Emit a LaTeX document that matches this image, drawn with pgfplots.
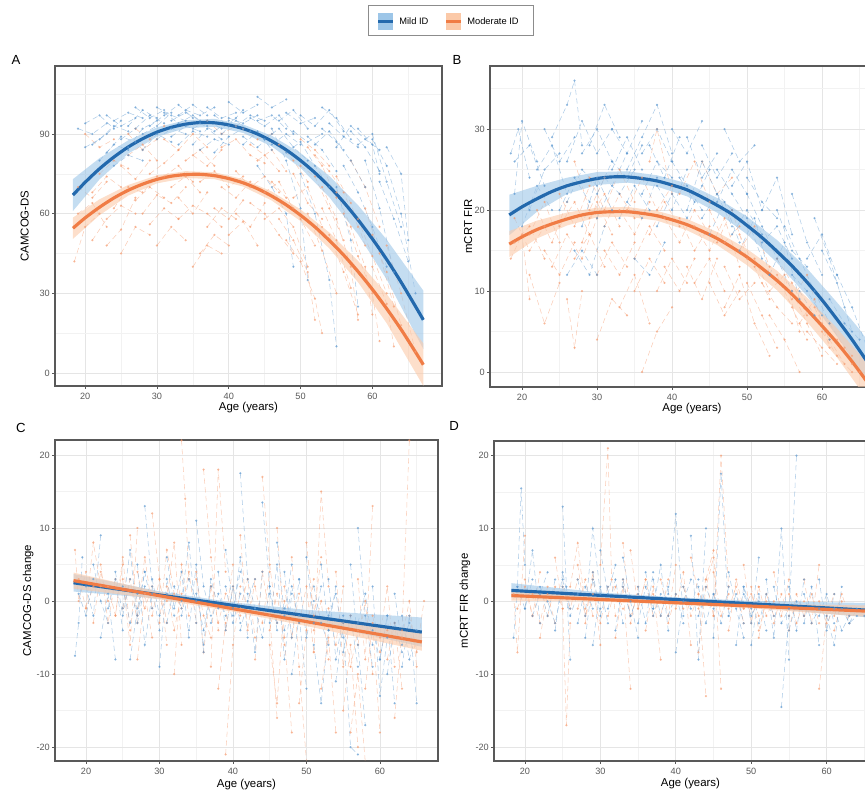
\documentclass[border=0pt]{standalone}
\usepackage{pgfplots}
\pgfplotsset{compat=1.18}
\usepackage{fontspec}
\setmainfont{Liberation Sans}

\definecolor{bl}{HTML}{2369AD}
\definecolor{orl}{HTML}{F07C45}
\definecolor{blp}{HTML}{5B97CF}
\definecolor{orp}{HTML}{F59A6E}
\definecolor{blr}{HTML}{9DC6E8}
\definecolor{orr}{HTML}{FBC9A8}

\pgfplotsset{
  panel/.style={
    scale only axis, anchor=south west,
    axis line style={black!65, line width=0.6pt},
    grid=both,
    major grid style={black!10, line width=0.4pt},
    minor grid style={black!5, line width=0.3pt},
    tick align=outside, tick pos=left,
    major tick length=0.06cm, minor tick length=0pt,
    tick style={black!65, line width=0.4pt},
    ticklabel style={font=\fontsize{5.2}{6}\selectfont, text=black!65},
    xticklabel style={yshift=0.04cm},
    yticklabel style={xshift=0.08cm},
    /pgf/number format/assume math mode=true,
    label style={font=\fontsize{6.5}{7.5}\selectfont},
    xlabel={Age (years)},
    xtick={20,30,40,50,60}, minor xtick={15,25,35,45,55,65},
  },
  ptsB/.style={blp, densely dashed, line width=0.3pt, opacity=0.5, mark=*, mark size=0.5pt, mark options={solid}, unbounded coords=jump},
  ptsO/.style={orp, densely dashed, line width=0.3pt, opacity=0.5, mark=*, mark size=0.5pt, mark options={solid}, unbounded coords=jump},
  ribB/.style={draw=none, fill=blr, fill opacity=0.6},
  ribO/.style={draw=none, fill=orr, fill opacity=0.6},
  fitB/.style={bl, line width=1.8pt, smooth},
  fitO/.style={orl, line width=1.8pt, smooth},
}

\begin{document}
\begin{tikzpicture}
\useasboundingbox (0,0) rectangle (17.3,15.86);
\clip (0,0) rectangle (17.3,15.86);

% legend
\draw[black!45, line width=0.5pt] (7.36,15.16) rectangle (10.66,15.76);
\fill[blr] (7.56,15.26) rectangle (7.86,15.60);
\draw[bl, line width=1.6pt] (7.56,15.43) -- (7.86,15.43);
\node[anchor=west, font=\fontsize{5.3}{6}\selectfont, inner sep=0] at (7.98,15.43) {Mild ID};
\fill[orr] (8.92,15.26) rectangle (9.22,15.60);
\draw[orl, line width=1.6pt] (8.92,15.43) -- (9.22,15.43);
\node[anchor=west, font=\fontsize{5.3}{6}\selectfont, inner sep=0] at (9.34,15.43) {Moderate ID};

% panel letters
\node[font=\fontsize{7.5}{8}\selectfont] at (0.32,14.66) {A};
\node[font=\fontsize{7.5}{8}\selectfont] at (9.14,14.66) {B};
\node[font=\fontsize{7.5}{8}\selectfont] at (0.42,7.30) {C};
\node[font=\fontsize{7.5}{8}\selectfont] at (9.08,7.34) {D};

% ---------------- A
\begin{axis}[panel, at={(1.10cm,8.14cm)}, width=7.74cm, height=6.40cm,
  xmin=15.8, xmax=69.7, ymin=-4.9, ymax=115.6,
  ytick={0,30,60,90}, minor ytick={15,45,75,105},
  ylabel={CAMCOG-DS},
  ylabel style={at={(axis description cs:-0.078,0.5)}, anchor=center},
  xlabel style={at={(axis description cs:0.5,-0.066)}, anchor=center}]
\addplot[ptsO] coordinates {
(18.5,42)(20,55)(22,60)(0,nan)(19,70)(21,66)(23,72)(0,nan)(21,50)(23,58)(25,63)(27,60)(0,nan)
(22,75)(24,80)(26,77)(0,nan)(24,62)(26,70)(28,68)(30,74)(0,nan)(25,45)(27,55)(29,52)(0,nan)
(26,82)(28,86)(30,80)(0,nan)(28,60)(30,67)(32,64)(34,70)(0,nan)(29,75)(31,79)(33,84)(0,nan)
(30,48)(32,55)(34,50)(0,nan)(31,88)(33,84)(35,90)(37,85)(0,nan)(32,70)(34,74)(36,68)(0,nan)
(33,58)(35,63)(37,60)(39,55)(0,nan)(34,80)(36,84)(38,78)(0,nan)(35,40)(37,48)(39,45)(0,nan)
(36,72)(38,76)(40,70)(42,74)(0,nan)(38,62)(40,58)(42,65)(0,nan)(39,85)(41,88)(43,82)(45,79)(0,nan)
(40,52)(42,57)(44,48)(0,nan)(41,76)(43,70)(45,74)(47,68)(0,nan)(43,64)(45,60)(47,52)(49,45)(0,nan)
(44,80)(46,84)(48,76)(0,nan)(45,58)(47,62)(49,55)(51,40)(0,nan)(46,72)(48,66)(50,58)(52,48)(0,nan)
(47,86)(49,80)(51,72)(0,nan)(48,50)(50,42)(52,28)(53,15)(0,nan)(49,66)(51,70)(53,55)(0,nan)
(50,78)(52,74)(54,62)(56,50)(0,nan)(51,60)(53,46)(55,30)(0,nan)(52,82)(54,76)(56,68)(58,55)(0,nan)
(53,70)(55,58)(57,40)(58,20)(0,nan)(54,52)(56,38)(58,22)(0,nan)(55,74)(57,64)(59,48)(0,nan)
(56,60)(58,44)(60,30)(61,12)(0,nan)(57,80)(59,70)(61,55)(0,nan)(59,62)(61,45)(63,25)(0,nan)
(60,52)(62,38)(64,18)(0,nan)(62,48)(64,30)(66,8)(0,nan)(20,90)(22,85)(24,88)(0,nan)
(27,92)(29,88)(31,93)(0,nan)(42,92)(44,88)(46,90)(0,nan)(50,88)(52,84)(54,78)(0,nan)(37,95)(39,90)(41,93)
};
\addplot[ptsO] coordinates {
(19,60)(21,64)(23,55)(0,nan)(21,68)(23,74)(25,70)(0,nan)(23,48)(25,54)(27,66)(0,nan)(25,78)(27,73)(29,80)(0,nan)
(27,65)(29,70)(31,66)(0,nan)(29,56)(31,62)(33,58)(0,nan)(31,74)(33,78)(35,72)(0,nan)(33,66)(35,60)(37,68)(0,nan)
(35,82)(37,78)(39,84)(0,nan)(37,55)(39,62)(41,58)(0,nan)(39,70)(41,66)(43,72)(0,nan)(41,60)(43,55)(45,64)(0,nan)
(43,86)(45,82)(47,76)(0,nan)(45,68)(47,72)(49,62)(0,nan)(47,58)(49,50)(51,38)(52,20)(0,nan)(49,75)(51,64)(53,58)(0,nan)
(51,85)(53,78)(55,66)(0,nan)(53,62)(55,50)(57,32)(0,nan)(55,68)(57,55)(59,40)(60,22)(0,nan)(58,58)(60,44)(62,30)(0,nan)
(60,40)(62,26)(63,10)(0,nan)(26,90)(28,84)(30,88)(0,nan)(36,45)(38,52)(40,48)
};
\addplot[ptsB] coordinates {
(19,92)(21,90)(23,94)(0,nan)(20,85)(22,88)(24,93)(26,91)(0,nan)(22,80)(24,86)(26,84)(0,nan)
(24,95)(26,98)(28,96)(0,nan)(25,88)(27,92)(29,97)(31,94)(0,nan)(27,100)(29,96)(31,99)(0,nan)
(28,84)(30,90)(32,87)(0,nan)(29,93)(31,97)(33,101)(35,96)(0,nan)(30,88)(32,92)(34,90)(0,nan)
(31,98)(33,94)(35,97)(37,93)(0,nan)(33,86)(35,91)(37,89)(0,nan)(34,99)(36,97)(38,100)(0,nan)
(35,92)(37,95)(39,92)(41,96)(0,nan)(36,84)(38,88)(40,86)(0,nan)(38,97)(40,93)(42,99)(0,nan)
(39,90)(41,95)(43,91)(45,88)(0,nan)(40,102)(42,98)(44,101)(0,nan)(42,86)(44,91)(46,84)(0,nan)
(43,96)(45,93)(47,97)(49,90)(0,nan)(44,104)(46,100)(48,103)(0,nan)(45,88)(47,92)(49,85)(51,80)(0,nan)
(47,95)(49,99)(51,92)(0,nan)(48,83)(50,87)(52,78)(54,70)(0,nan)(50,97)(52,93)(54,99)(56,91)(0,nan)
(51,89)(53,84)(55,76)(0,nan)(53,92)(55,87)(57,80)(59,70)(0,nan)(55,85)(57,93)(59,88)(61,84)(0,nan)
(56,78)(58,68)(60,55)(62,40)(0,nan)(57,91)(59,85)(61,76)(0,nan)(58,86)(60,90)(62,72)(64,55)(0,nan)
(59,80)(61,62)(63,38)(0,nan)(60,88)(62,78)(64,60)(66,30)(0,nan)(61,72)(63,58)(65,42)(0,nan)
(50,75)(52,60)(54,35)(55,10)(0,nan)(46,92)(48,80)(50,62)(51,35)(0,nan)(41,93)(43,97)(45,95)(0,nan)
(26,85)(28,92)(30,95)(0,nan)(23,97)(25,93)(27,96)(0,nan)(37,100)(39,96)(41,98)(0,nan)
(32,95)(34,98)(36,95)(0,nan)(53,100)(55,96)(57,88)(0,nan)(62,85)(64,75)(65,50)
};
\addplot[ptsB] coordinates {
(20,94)(22,97)(24,92)(0,nan)(21,86)(23,90)(25,95)(0,nan)(23,83)(25,89)(27,87)(0,nan)(26,93)(28,99)(30,96)(0,nan)
(28,90)(30,93)(32,98)(0,nan)(30,100)(32,97)(34,95)(0,nan)(32,89)(34,93)(36,91)(0,nan)(33,97)(35,101)(37,97)(0,nan)
(35,86)(37,92)(39,88)(0,nan)(36,94)(38,91)(40,95)(0,nan)(38,83)(40,89)(42,92)(0,nan)(40,96)(42,94)(44,97)(0,nan)
(42,89)(44,85)(46,90)(0,nan)(44,95)(46,97)(48,92)(0,nan)(46,86)(48,90)(50,86)(0,nan)(48,98)(50,94)(52,96)(0,nan)
(49,91)(51,87)(53,90)(0,nan)(52,86)(54,91)(56,84)(0,nan)(54,94)(56,89)(58,85)(0,nan)(58,92)(60,86)(61,75)(0,nan)
(44,78)(46,70)(48,60)(49,40)(0,nan)(55,70)(57,50)(58,25)(0,nan)(24,78)(26,82)(28,80)
};
\addplot[ribB] coordinates {(18.3,73.0)(22,80.9)(26,87.6)(30,92.5)(34,95.2)(38,95.7)(42,93.6)(46,89.3)(50,82.8)(54,74.2)(58,63.2)(62,50.2)(67.1,31.0)
(67.1,9.0)(62,35.2)(58,52.2)(54,66.2)(50,77.2)(46,85.3)(42,90.4)(38,92.7)(34,92.2)(30,88.9)(26,82.6)(22,72.9)(18.3,61.0)} -- cycle;
\addplot[ribO] coordinates {(18.3,58.5)(22,65.4)(26,70.8)(30,74.4)(34,76.0)(38,75.6)(42,73.0)(46,68.3)(50,61.6)(54,52.9)(58,42.2)(62,29.7)(67.1,11.1)
(67.1,-4.9)(62,18.7)(58,34.2)(54,46.9)(50,57.2)(46,64.9)(42,70.2)(38,73.0)(34,73.4)(30,71.4)(26,66.8)(22,59.4)(18.3,50.5)} -- cycle;
\addplot[fitB] coordinates {(18.3,67.0)(20,71.8)(22,76.9)(24,81.3)(26,85.1)(28,88.2)(30,90.7)(32,92.5)(34,93.7)(36,94.3)(38,94.2)(40,93.4)(42,92.0)(44,90.0)(46,87.3)(48,84.0)(50,80.0)(52,75.4)(54,70.2)(56,64.3)(58,57.7)(60,50.5)(62,42.7)(64,34.2)(66,25.1)(67.1,20.0)};
\addplot[fitO] coordinates {(18.3,54.5)(20,58.4)(22,62.4)(24,65.9)(26,68.8)(28,71.1)(30,72.9)(32,74.1)(34,74.7)(36,74.8)(38,74.3)(40,73.2)(42,71.6)(44,69.4)(46,66.6)(48,63.3)(50,59.4)(52,55.0)(54,49.9)(56,44.4)(58,38.2)(60,31.5)(62,24.2)(64,16.4)(66,7.9)(67.1,3.1)};
\end{axis}

% ---------------- B
\begin{axis}[panel, at={(9.80cm,8.12cm)}, width=8.08cm, height=6.42cm,
  xmin=15.73, xmax=69.6, ymin=-1.85, ymax=37.8,
  ytick={0,10,20,30}, minor ytick={5,15,25,35},
  ylabel={mCRT FIR},
  ylabel style={at={(axis description cs:-0.054,0.5)}, anchor=center},
  xlabel style={at={(axis description cs:0.5,-0.066)}, anchor=center}]
\addplot[ptsO] coordinates {
(18.5,14)(20,17)(21,9)(0,nan)(19,19)(21,15)(23,18)(0,nan)(21,12)(23,6)(25,11)(0,nan)(22,20)(24,16)(26,21)(0,nan)
(24,13)(26,17)(28,14)(30,19)(0,nan)(25,22)(27,18)(29,23)(0,nan)(26,9)(27,3)(28,10)(0,nan)(28,16)(30,21)(32,17)(0,nan)
(29,24)(31,20)(33,25)(35,21)(0,nan)(30,12)(32,16)(34,13)(0,nan)(31,18)(33,22)(35,19)(0,nan)(33,8)(35,12)(37,6)(0,nan)
(34,20)(36,24)(38,20)(40,23)(0,nan)(35,14)(37,18)(39,15)(0,nan)(37,26)(38,30)(40,22)(0,nan)(38,10)(40,14)(42,11)(0,nan)
(39,19)(41,16)(43,20)(45,17)(0,nan)(41,22)(43,26)(45,21)(0,nan)(42,13)(44,9)(46,14)(0,nan)(43,18)(45,15)(47,19)(49,13)(0,nan)
(45,11)(47,7)(49,10)(0,nan)(46,16)(48,20)(50,14)(0,nan)(47,8)(49,12)(51,6)(53,2)(0,nan)(49,17)(51,13)(53,9)(0,nan)
(50,11)(52,7)(54,3)(0,nan)(51,14)(53,10)(55,12)(57,5)(0,nan)(53,7)(55,4)(57,0)(0,nan)(54,12)(56,8)(58,4)(0,nan)
(56,10)(58,6)(60,2)(0,nan)(57,6)(59,9)(61,3)(0,nan)(59,8)(61,4)(63,1)(0,nan)(60,5)(62,2)(64,0)(0,nan)
(62,4)(64,1)(65,0)(0,nan)(36,0)(38,5)(40,8)(0,nan)(44,26)(46,22)(48,24)(0,nan)(27,26)(29,20)(31,24)
};
\addplot[ptsO] coordinates {
(19,16)(21,18)(23,14)(0,nan)(21,17)(23,21)(25,16)(0,nan)(23,15)(25,12)(27,16)(0,nan)(25,18)(27,21)(29,17)(0,nan)
(27,14)(29,17)(31,13)(0,nan)(29,19)(31,22)(33,18)(0,nan)(31,15)(33,12)(35,16)(0,nan)(33,20)(35,17)(37,21)(0,nan)
(35,10)(37,14)(39,11)(0,nan)(37,17)(39,21)(41,18)(0,nan)(39,13)(41,10)(43,14)(0,nan)(41,19)(43,15)(45,18)(0,nan)
(43,11)(45,14)(47,10)(0,nan)(45,20)(47,16)(49,18)(0,nan)(47,13)(49,9)(51,11)(0,nan)(49,15)(51,18)(53,13)(0,nan)
(52,11)(54,8)(56,6)(0,nan)(54,14)(56,11)(58,7)(0,nan)(56,9)(58,12)(60,6)(0,nan)(58,5)(60,3)(62,1)(0,nan)
(61,6)(63,3)(64,2)(0,nan)(30,4)(32,9)(34,7)
};
\addplot[ptsB] coordinates {
(18.5,27)(19.5,30)(21,24)(0,nan)(19,22)(20,31)(22,26)(0,nan)(20,18)(22,23)(24,20)(0,nan)(22,25)(24,28)(26,22)(0,nan)
(24,29)(26,33)(27,36)(28,28)(0,nan)(25,20)(27,24)(29,21)(0,nan)(26,26)(28,31)(30,27)(32,30)(0,nan)(28,18)(30,24)(32,20)(0,nan)
(29,28)(31,33)(33,29)(0,nan)(30,22)(32,26)(34,24)(36,28)(0,nan)(32,30)(34,27)(36,31)(0,nan)(33,19)(35,23)(37,20)(0,nan)
(34,25)(36,29)(38,33)(40,27)(0,nan)(36,22)(38,26)(40,24)(0,nan)(37,28)(39,24)(41,29)(0,nan)(38,18)(40,22)(42,19)(44,23)(0,nan)
(40,30)(42,27)(44,31)(0,nan)(41,24)(43,21)(45,25)(0,nan)(42,20)(44,26)(46,22)(48,18)(0,nan)(44,28)(46,24)(48,27)(0,nan)
(45,17)(47,21)(49,16)(0,nan)(46,25)(48,22)(50,19)(52,14)(0,nan)(48,23)(50,26)(52,20)(0,nan)(49,15)(51,19)(53,12)(0,nan)
(50,22)(52,18)(54,14)(56,10)(0,nan)(52,20)(54,24)(56,17)(0,nan)(53,12)(55,16)(57,9)(0,nan)(55,18)(57,14)(59,10)(61,6)(0,nan)
(56,22)(58,16)(60,12)(0,nan)(57,10)(59,7)(61,4)(0,nan)(59,19)(61,14)(63,8)(0,nan)(60,15)(62,11)(64,5)(0,nan)
(62,12)(64,8)(66,3)(0,nan)(27,15)(29,12)(31,18)(0,nan)(35,14)(37,12)(39,16)(0,nan)(47,30)(49,26)(51,28)(0,nan)(31,24)(33,22)(35,25)
};
\addplot[ptsB] coordinates {
(19,26)(21,28)(23,23)(0,nan)(21,20)(23,25)(25,27)(0,nan)(23,30)(25,26)(27,29)(0,nan)(26,21)(28,25)(30,23)(0,nan)
(28,27)(30,30)(32,26)(0,nan)(30,19)(32,23)(34,27)(0,nan)(32,25)(34,29)(36,25)(0,nan)(34,21)(36,19)(38,24)(0,nan)
(36,27)(38,30)(40,26)(0,nan)(38,23)(40,20)(42,25)(0,nan)(40,26)(42,23)(44,20)(0,nan)(42,29)(44,24)(46,27)(0,nan)
(44,19)(46,22)(48,20)(0,nan)(46,21)(48,25)(50,22)(0,nan)(48,17)(50,20)(52,17)(0,nan)(50,24)(52,21)(54,19)(0,nan)
(52,16)(54,18)(56,14)(0,nan)(54,20)(56,15)(58,13)(0,nan)(56,12)(58,10)(60,7)(0,nan)(58,14)(60,17)(62,12)(0,nan)
(61,9)(63,6)(65,4)(0,nan)(26,12)(28,15)(30,12)
};
\addplot[ribB] coordinates {(18.3,21.9)(22,23.0)(26,24.0)(30,24.7)(34,24.8)(38,24.3)(42,23.3)(46,21.5)(50,19.2)(54,16.3)(58,12.8)(62,8.6)(64.8,5.5)(67.1,2.6)
(67.1,-3.0)(64.8,0.5)(62,4.4)(58,9.4)(54,13.5)(50,17.0)(46,19.7)(42,21.7)(38,22.9)(34,23.4)(30,23.1)(26,22.0)(22,19.8)(18.3,16.9)} -- cycle;
\addplot[ribO] coordinates {(18.3,17.4)(22,18.7)(26,19.7)(30,20.3)(34,20.4)(38,19.9)(42,18.9)(46,17.3)(50,15.2)(54,12.5)(58,9.2)(62,5.4)(64.8,2.4)(67.1,-0.2)
(67.1,-5.0)(64.8,-1.8)(62,1.8)(58,6.2)(54,10.1)(50,13.2)(46,15.7)(42,17.5)(38,18.7)(34,19.2)(30,19.1)(26,18.1)(22,16.5)(18.3,14.2)} -- cycle;
\addplot[fitB] coordinates {(18.3,19.4)(20,20.4)(22,21.4)(24,22.3)(26,23.0)(28,23.5)(30,23.9)(32,24.1)(34,24.1)(36,23.9)(38,23.6)(40,23.1)(42,22.5)(44,21.6)(46,20.6)(48,19.5)(50,18.1)(52,16.6)(54,14.9)(56,13.1)(58,11.1)(60,8.9)(62,6.5)(64,4.0)(66,1.3)(67.1,-0.2)};
\addplot[fitO] coordinates {(18.3,15.8)(20,16.7)(22,17.6)(24,18.3)(26,18.9)(28,19.4)(30,19.7)(32,19.8)(34,19.8)(36,19.6)(38,19.3)(40,18.8)(42,18.2)(44,17.4)(46,16.5)(48,15.4)(50,14.2)(52,12.8)(54,11.3)(56,9.6)(58,7.7)(60,5.7)(62,3.6)(64,1.3)(66,-1.2)(67.1,-2.6)};
\end{axis}

% ---------------- C
\begin{axis}[panel, at={(1.10cm,0.64cm)}, width=7.66cm, height=6.42cm,
  xmin=15.78, xmax=67.9, ymin=-21.9, ymax=22.05,
  ytick={-20,-10,0,10,20}, minor ytick={-15,-5,5,15},
  ylabel={CAMCOG-DS change},
  ylabel style={at={(axis description cs:-0.07,0.5)}, anchor=center},
  xlabel style={at={(axis description cs:0.5,-0.072)}, anchor=center}]
\addplot[ptsO] coordinates {
(18.5,7)(19,0)(20,4)(0,nan)(20,-1)(21,8)(22,2)(0,nan)(22,5)(23,-3)(24,3)(0,nan)(24,-2)(25,6)(26,-4)(0,nan)
(26,9)(27,-2)(28,6)(29,-1)(0,nan)(27,-8)(28,1)(29,-5)(0,nan)(29,12)(30,3)(31,-6)(0,nan)(30,-3)(31,7)(32,1)(0,nan)
(32,-10)(33,5)(34,-2)(0,nan)(33,22)(33.5,14)(34,3)(0,nan)(35,4)(36,-7)(37,2)(0,nan)(36,18)(37,6)(38,-4)(0,nan)
(38,-12)(39,-3)(40,5)(0,nan)(39,-21)(40,-6)(41,2)(0,nan)(41,9)(42,-4)(43,3)(0,nan)(43,-8)(44,4)(45,-2)(46,-16)(0,nan)
(44,17)(45,5)(46,-3)(0,nan)(46,10)(47,-5)(48,-18)(0,nan)(48,6)(49,-9)(50,-22)(0,nan)(49,-14)(50,-4)(51,3)(0,nan)
(51,-7)(52,15)(53,2)(0,nan)(52,-12)(53,-5)(54,-18)(0,nan)(54,4)(55,-9)(56,-2)(0,nan)(55,-15)(56,-6)(57,-20)(0,nan)
(57,3)(58,-8)(59,13)(0,nan)(58,-12)(59,-3)(60,-18)(0,nan)(60,-5)(61,2)(62,-9)(0,nan)(62,-16)(63,-4)(64,22)(0,nan)
(64,-2)(65,-7)(66,0)(0,nan)(25,3)(26,-6)(27,10)(0,nan)(31,0)(32,8)(33,-6)(0,nan)(37,-9)(38,18)(39,4)(0,nan)
(45,-6)(46,-14)(47,0)(0,nan)(50,8)(51,-2)(52,6)(0,nan)(56,-18)(57,-10)(58,-22)
};
\addplot[ptsO] coordinates {
(19,3)(20,-1)(21,2)(0,nan)(21,-3)(22,4)(23,0)(0,nan)(23,2)(24,-2)(25,5)(0,nan)(25,-1)(26,3)(27,-3)(0,nan)
(27,4)(28,-1)(29,2)(0,nan)(29,-2)(30,3)(31,-3)(0,nan)(31,2)(32,-4)(33,1)(0,nan)(33,-1)(34,4)(35,-3)(0,nan)
(35,3)(36,-2)(37,-5)(0,nan)(37,2)(38,-3)(39,1)(0,nan)(39,-4)(40,2)(41,-2)(0,nan)(41,-1)(42,3)(43,-5)(0,nan)
(43,2)(44,-3)(45,4)(0,nan)(45,-4)(46,1)(47,-6)(0,nan)(47,2)(48,-5)(49,1)(0,nan)(49,-3)(50,2)(51,-7)(0,nan)
(51,-4)(52,0)(53,-8)(0,nan)(53,-1)(54,-6)(55,2)(0,nan)(55,-3)(56,-9)(57,-4)(0,nan)(57,-6)(58,0)(59,-10)(0,nan)
(59,-2)(60,-7)(61,-4)(0,nan)(61,-8)(62,-3)(63,-12)(0,nan)(63,-5)(64,0)(65,-9)
};
\addplot[ptsB] coordinates {
(18.5,-7.5)(19,-3)(19.5,6)(0,nan)(20,2)(21,-2)(22,9)(0,nan)(22,-5)(23,1)(24,-8)(0,nan)(24,4)(25,-2)(26,3)(0,nan)
(25,-1)(26,7)(27,-3)(28,2)(0,nan)(27,5)(28,-6)(29,1)(0,nan)(28,13)(29,2)(30,-4)(0,nan)(30,-9)(31,3)(32,-2)(0,nan)
(31,6)(32,-1)(33,4)(34,-5)(0,nan)(33,0)(34,8)(35,-3)(0,nan)(35,11)(36,2)(37,-2)(0,nan)(36,-6)(37,3)(38,-1)(0,nan)
(38,4)(39,-4)(40,2)(41,-3)(0,nan)(40,-2)(41,6)(42,-5)(0,nan)(42,1)(43,-7)(44,4)(0,nan)(44,13.5)(45,2)(46,-4)(0,nan)
(45,-3)(46,5)(47,-8)(48,1)(0,nan)(47,4)(48,-5)(49,3)(0,nan)(48,-10)(49,-2)(50,-12)(0,nan)(50,6)(51,-3)(52,2)(0,nan)
(51,-6)(52,-14)(53,-4)(0,nan)(53,3)(54,-8)(55,-2)(0,nan)(54,-11)(55,-3)(56,-20)(57,-21)(0,nan)(56,5)(57,-6)(58,-17)(0,nan)
(57,10)(58,-2)(59,-9)(0,nan)(59,2)(60,-13)(61,-5)(0,nan)(60,-8)(61,-2)(62,-14)(0,nan)(62,1)(63,-6)(64,-3)(0,nan)
(63,-9)(64,-2)(65,-14)(0,nan)(26,-8)(27,-1)(28,4)(0,nan)(34,-4)(35,5)(36,-7)(0,nan)(39,7)(40,-1)(41,4)(0,nan)
(46,8)(47,-2)(48,5)(0,nan)(41,17.5)(42,3)(43,-1)(0,nan)(52,5)(53,-4)(54,2)
};
\addplot[ptsB] coordinates {
(19,1)(20,-2)(21,3)(0,nan)(21,5)(22,0)(23,-3)(0,nan)(23,-1)(24,3)(25,-4)(0,nan)(25,2)(26,-3)(27,1)(0,nan)
(27,-2)(28,4)(29,-1)(0,nan)(29,3)(30,-2)(31,1)(0,nan)(31,-3)(32,2)(33,-1)(0,nan)(33,-2)(34,3)(35,0)(0,nan)
(35,1)(36,-4)(37,2)(0,nan)(37,-3)(38,1)(39,-2)(0,nan)(39,2)(40,-3)(41,1)(0,nan)(41,-4)(42,0)(43,3)(0,nan)
(43,-1)(44,-5)(45,2)(0,nan)(45,1)(46,-3)(47,-1)(0,nan)(47,-4)(48,2)(49,-3)(0,nan)(49,3)(50,-5)(51,0)(0,nan)
(51,2)(52,-3)(53,-6)(0,nan)(53,-2)(54,1)(55,-5)(0,nan)(55,-7)(56,-2)(57,-9)(0,nan)(57,-3)(58,1)(59,-6)(0,nan)
(59,-4)(60,-8)(61,-2)(0,nan)(61,-10)(62,-3)(63,-7)(0,nan)(63,-2)(64,-8)(65,-4)
};
\addplot[ribB] coordinates {(18.3,3.7)(30,1.33)(40,-0.19)(50,-1.21)(65.7,-2.25)(65.7,-6.25)(50,-2.81)(40,-0.99)(30,0.33)(18.3,1.3)} -- cycle;
\addplot[ribO] coordinates {(18.3,3.9)(30,1.23)(40,-0.65)(50,-2.22)(65.7,-4.4)(65.7,-6.8)(50,-3.42)(40,-1.45)(30,0.23)(18.3,1.7)} -- cycle;
\addplot[fitB] coordinates {(18.3,2.5)(65.7,-4.25)};
\addplot[fitO] coordinates {(18.3,2.8)(65.7,-5.6)};
\end{axis}

% ---------------- D
\begin{axis}[panel, at={(9.88cm,0.64cm)}, width=7.86cm, height=6.40cm,
  xmin=15.9, xmax=68.0, ymin=-21.9, ymax=22.0,
  ytick={-20,-10,0,10,20}, minor ytick={-15,-5,5,15},
  ylabel={mCRT FIR change},
  ylabel style={at={(axis description cs:-0.074,0.5)}, anchor=center},
  xlabel style={at={(axis description cs:0.5,-0.072)}, anchor=center}]
\addplot[ptsO] coordinates {
(18.5,1)(19,-7)(20,9)(0,nan)(20,3)(21,-2)(22,4)(0,nan)(22,-5)(23,1)(24,-3)(0,nan)(24,6)(25,-1)(25.5,-17)(26,-3)(0,nan)
(26,2)(27,8)(28,-1)(0,nan)(28,-3)(29,4)(30,-6)(0,nan)(30,5)(31,21)(31.5,3)(32,-2)(0,nan)(32,-5)(33,2)(34,-12)(0,nan)
(34,7)(35,-1)(36,3)(0,nan)(36,-4)(37,2)(38,-8)(0,nan)(38,3)(39,-2)(40,5)(0,nan)(40,-1)(41,4)(42,-6)(0,nan)
(42,6)(43,1)(44,-13)(0,nan)(44,3)(45,7)(46,-12)(0,nan)(45,-2)(46,20)(47,2)(0,nan)(47,-4)(48,3)(49,-1)(0,nan)
(49,5)(50,-3)(51,2)(0,nan)(51,-5)(52,1)(53,-2)(0,nan)(53,4)(54,-2)(55,3)(0,nan)(55,-4)(56,1)(57,-2)(0,nan)
(57,3)(58,-3)(59,5)(0,nan)(59,-12)(60,-2)(61,1)(0,nan)(61,-4)(62,0)(63,-3)(0,nan)(27,5)(28,-2)(29,3)(0,nan)
(43,-7)(44,2)(45,6)(0,nan)(50,2)(51,-4)(52,0)(0,nan)(33,8)(34,-3)(35,2)
};
\addplot[ptsO] coordinates {
(19,-1)(20,2)(21,-2)(0,nan)(21,1)(22,-3)(23,2)(0,nan)(23,-2)(24,2)(25,-1)(0,nan)(25,2)(26,-1)(27,3)(0,nan)
(27,-1)(28,3)(29,-2)(0,nan)(29,1)(30,-3)(31,2)(0,nan)(31,-2)(32,2)(33,-1)(0,nan)(33,3)(34,-2)(35,1)(0,nan)
(35,-1)(36,3)(37,-2)(0,nan)(37,1)(38,-2)(39,3)(0,nan)(39,-3)(40,1)(41,-1)(0,nan)(41,2)(42,-2)(43,1)(0,nan)
(43,-1)(44,3)(45,-2)(0,nan)(45,4)(46,-2)(47,1)(0,nan)(47,-1)(48,2)(49,-3)(0,nan)(49,-1)(50,1)(51,-2)(0,nan)
(51,2)(52,-2)(53,0)(0,nan)(53,-3)(54,1)(55,-2)(0,nan)(55,1)(56,-3)(57,0)(0,nan)(57,-2)(58,1)(59,-3)(0,nan)
(59,0)(60,-3)(61,-1)(0,nan)(61,-2)(62,1)(63,-2)
};
\addplot[ptsB] coordinates {
(18.5,-5)(19,2)(19.5,15.5)(20,5)(0,nan)(20,-1)(21,7)(22,-3)(0,nan)(22,2)(23,-2)(24,3)(0,nan)(24,-4)(25,4)(26,-1)(0,nan)
(25,13)(25.5,2)(26,-8)(0,nan)(27,3)(28,-2)(29,10)(30,1)(0,nan)(29,-6)(30,2)(31,-3)(0,nan)(30,7)(31,1)(32,5)(0,nan)
(32,-4)(33,3)(34,-2)(0,nan)(33,6)(34,0)(35,-5)(0,nan)(35,2)(36,-3)(37,4)(0,nan)(37,-1)(38,5)(39,-4)(0,nan)
(39,1)(40,12)(41,-2)(0,nan)(40,-7)(41,0)(42,3)(0,nan)(42,9)(43,-8)(44,10)(0,nan)(43,2)(44,-3)(45,1)(0,nan)
(45,-5)(46,17.5)(47,-2)(0,nan)(47,4)(48,-1)(49,-5)(0,nan)(49,2)(50,-3)(51,6)(0,nan)(50,-6)(51,1)(52,-4)(0,nan)
(52,3)(53,-5)(54,10)(55,-8)(0,nan)(54,-14.5)(55,-2)(56,20)(0,nan)(55,2)(56,-4)(57,3)(0,nan)(57,-3)(58,2)(59,-6)(0,nan)
(59,3)(60,-4)(61,1)(0,nan)(60,-2)(61,-6)(62,2)(0,nan)(62,-1)(63,-3)(64,-2)(0,nan)(28,-5)(29,3)(30,-1)(0,nan)
(36,4)(37,-2)(38,1)(0,nan)(48,-6)(49,2)(50,-1)
};
\addplot[ptsB] coordinates {
(19,2)(20,-1)(21,3)(0,nan)(21,-2)(22,1)(23,4)(0,nan)(23,0)(24,-3)(25,2)(0,nan)(25,3)(26,-2)(27,1)(0,nan)
(27,-3)(28,2)(29,-1)(0,nan)(29,4)(30,-2)(31,2)(0,nan)(31,-1)(32,3)(33,-3)(0,nan)(33,2)(34,-2)(35,1)(0,nan)
(35,-3)(36,2)(37,-1)(0,nan)(37,3)(38,-2)(39,2)(0,nan)(39,-2)(40,1)(41,-3)(0,nan)(41,2)(42,-1)(43,3)(0,nan)
(43,-2)(44,2)(45,-1)(0,nan)(45,1)(46,-3)(47,2)(0,nan)(47,-2)(48,1)(49,-3)(0,nan)(49,1)(50,-2)(51,0)(0,nan)
(51,-3)(52,1)(53,-2)(0,nan)(53,2)(54,-3)(55,-1)(0,nan)(55,-4)(56,0)(57,-2)(0,nan)(57,1)(58,-3)(59,-1)(0,nan)
(59,-2)(60,1)(61,-3)(0,nan)(61,-1)(62,-4)(63,-2)(0,nan)(63,-3)(64,-1)(65,-2)
};
\addplot[ribB] coordinates {(18.2,2.5)(30,1.22)(40,0.55)(50,0.07)(65.7,-0.23)(65.7,-2.23)(50,-0.73)(40,-0.05)(30,0.42)(18.2,0.5)} -- cycle;
\addplot[ribO] coordinates {(18.2,1.5)(30,0.56)(40,0.06)(50,-0.35)(65.7,-0.56)(65.7,-2.16)(50,-0.95)(40,-0.44)(30,-0.04)(18.2,0.1)} -- cycle;
\addplot[fitB] coordinates {(18.2,1.5)(65.7,-1.23)};
\addplot[fitO] coordinates {(18.2,0.8)(65.7,-1.36)};
\end{axis}
\end{tikzpicture}
\end{document}
